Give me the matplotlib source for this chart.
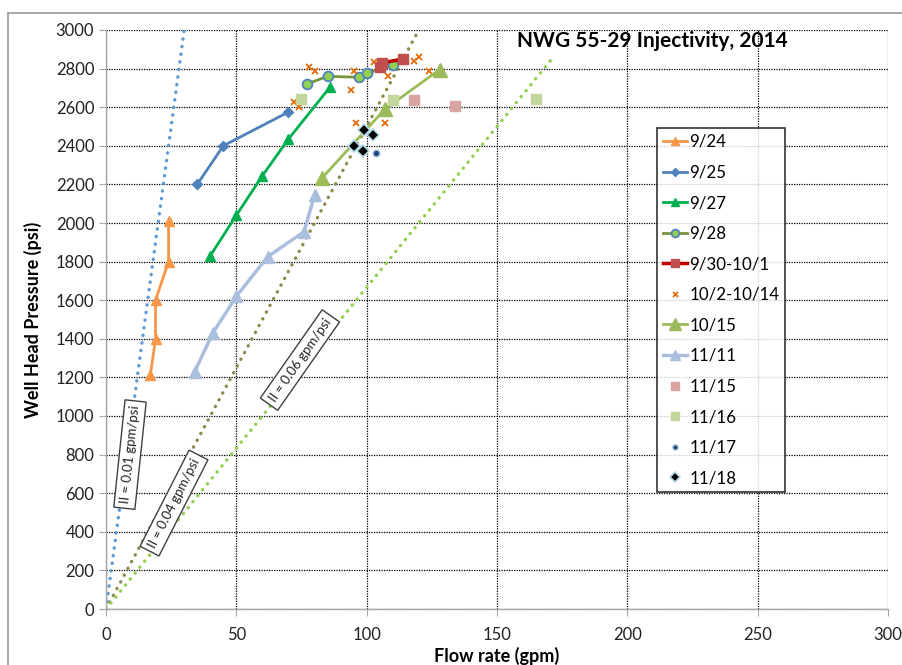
import matplotlib
matplotlib.use("Agg")
import matplotlib.pyplot as plt
from matplotlib.patches import Rectangle
import numpy as np

plt.rcParams['font.family'] = ['Lato', 'DejaVu Sans']

# ---- data ----
x_0924 = [17, 19, 19, 24, 24]
y_0924 = [1210, 1400, 1600, 1800, 2010]
x_0925 = [35, 45, 70]
y_0925 = [2200, 2400, 2575]
x_0927 = [40, 50, 60, 70, 86]
y_0927 = [1830, 2040, 2245, 2435, 2705]
x_0928 = [77, 85, 97, 100, 110]
y_0928 = [2720, 2760, 2755, 2775, 2820]
x_0930 = [105, 106, 114]
y_0930 = [2810, 2830, 2850]
x_1002 = [78, 80, 95, 94, 103, 108, 118, 120, 124, 72, 74, 96, 107]
y_1002 = [2808, 2790, 2790, 2690, 2836, 2763, 2840, 2860, 2790, 2628, 2600, 2520, 2520]
x_1015 = [83, 107, 128]
y_1015 = [2235, 2590, 2795]
x_1111 = [34, 41, 50, 62, 76, 80]
y_1111 = [1230, 1430, 1620, 1825, 1955, 2145]
x_1115 = [118, 134]
y_1115 = [2635, 2605]
x_1116 = [75, 110, 165]
y_1116 = [2640, 2637, 2645]
x_1117 = [103.5]
y_1117 = [2365]
x_1118 = [99, 102.5, 95, 98.7]
y_1118 = [2480, 2455, 2400, 2372]

ii_values = [0.01, 0.04, 0.06]
ii_xmax = [30, 120, 172]
ii_labels = ["II = 0.01 gpm/psi", "II = 0.04 gpm/psi", "II = 0.06 gpm/psi"]

x_ticks = [0, 50, 100, 150, 200, 250, 300]
y_ticks = list(range(0, 3001, 200))

# ---- figure ----
fig = plt.figure(figsize=(9.03, 6.65), dpi=100)
ax = fig.add_axes([106/903, 1-609/665, (888-106)/903, (609-30)/665])

fig.add_artist(Rectangle((8/903, -0.1), 1.2, 1.1 - 13/665,
                         transform=fig.transFigure, fill=False,
                         edgecolor='#9a9a9a', linewidth=1.2))

# trend lines
ii_colors = ['#5B9BD5', '#8E8A4E', '#92D050']
for ii, xm, c in zip(ii_values, ii_xmax, ii_colors):
    xs = np.array([0, xm])
    ax.plot(xs, xs / ii, linestyle=(0, (0.1, 2.2)), color=c,
            linewidth=2.4, dash_capstyle='round', zorder=2)

ax.plot(x_0924, y_0924, color='#F79646', lw=2, marker='^', ms=7, label='9/24', zorder=3)
ax.plot(x_0925, y_0925, color='#4F81BD', lw=2, marker='D', ms=5, label='9/25', zorder=3)
ax.plot(x_0927, y_0927, color='#00B050', lw=2, marker='^', ms=7, label='9/27', zorder=3)
ax.plot(x_0928, y_0928, color='#77933C', lw=2, marker='o', ms=7,
        markerfacecolor='#92D050', markeredgecolor='#4F81BD', markeredgewidth=1.3,
        label='9/28', zorder=3)
ax.plot(x_0930, y_0930, color='#C00000', lw=2.5, marker='s', ms=7,
        markerfacecolor='#C0504D', markeredgecolor='#C0504D', label='9/30-10/1', zorder=4)
ax.plot(x_1002, y_1002, linestyle='none', marker='x', ms=4.5, mew=1.3,
        color='#E46C0A', label='10/2-10/14', zorder=3)
ax.plot(x_1015, y_1015, color='#9BBB59', lw=2, marker='^', ms=10, label='10/15', zorder=3)
ax.plot(x_1111, y_1111, color='#A9BFDD', lw=2.5, marker='^', ms=9, label='11/11', zorder=3)
ax.plot(x_1115, y_1115, linestyle='none', marker='s', ms=7, color='#D9A3A1', label='11/15', zorder=3)
ax.plot(x_1116, y_1116, linestyle='none', marker='s', ms=7, color='#C3D69B', label='11/16', zorder=3)
ax.plot(x_1117, y_1117, linestyle='none', marker='o', ms=5, color='#1F497D',
        markeredgecolor='#B8CCE4', label='11/17', zorder=3)
ax.plot(x_1118, y_1118, linestyle='none', marker='D', ms=6, color='black',
        markeredgecolor='#B7DDE8', markeredgewidth=1.2, label='11/18', zorder=5)

# annotation boxes
box = dict(boxstyle='square,pad=0.35', facecolor='white', edgecolor='#404040', linewidth=1)
ann_pos = [(9.2, 800), (26.1, 549), (74.4, 1290)]
ann_rot = [84, 63, 55]
for (px, py), rot, txt in zip(ann_pos, ann_rot, ii_labels):
    ax.text(px, py, txt, rotation=rot, rotation_mode='anchor', ha='center', va='center',
            fontsize=9.5, bbox=box, zorder=6, color='#222222')

ax.set_xlim(0, 300)
ax.set_ylim(0, 3000)
ax.set_xticks(x_ticks)
ax.set_yticks(y_ticks)
ax.grid(True, color='black', linestyle=(0, (1, 1)), linewidth=0.9)
ax.set_axisbelow(True)
for s in ['top', 'right']:
    ax.spines[s].set_visible(False)
for s in ['left', 'bottom']:
    ax.spines[s].set_color('#A6A6A6')
    ax.spines[s].set_linewidth(1)
ax.tick_params(axis='both', colors='#A6A6A6', labelcolor='#222222', labelsize=12, length=5)
ax.tick_params(axis='x', pad=8)

ax.set_xlabel('Flow rate (gpm)', fontsize=13, fontweight='bold', labelpad=3)
ax.set_ylabel('Well Head Pressure (psi)', fontsize=13, fontweight='bold', labelpad=10)

ax.text((652-106)/782, (609-31)/579, 'NWG 55-29 Injectivity, 2014', transform=ax.transAxes,
        ha='center', va='top', fontsize=15, fontweight='bold')

leg = ax.legend(loc='upper left', bbox_to_anchor=(657/903, 1-128/665),
                bbox_transform=fig.transFigure, fontsize=12.2, frameon=True,
                fancybox=False, edgecolor='black', labelspacing=0.86,
                handlelength=1.4, handletextpad=0.15, borderpad=0.35,
                borderaxespad=0, markerscale=0.8)
leg.get_frame().set_linewidth(1.2)

fig.savefig('out.png', dpi=100)
